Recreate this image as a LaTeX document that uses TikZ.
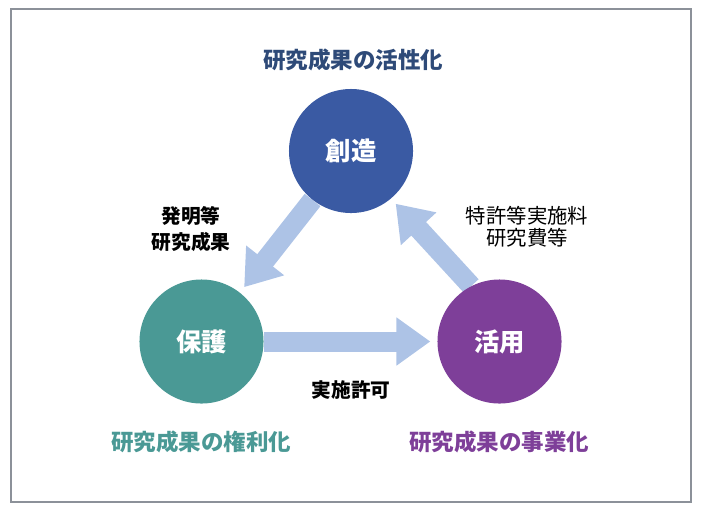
\documentclass[tikz,border=0pt]{standalone}
\usepackage{fontspec}
\setmainfont{Noto Sans CJK JP}
\usepackage{tikz}
\usetikzlibrary{arrows.meta,backgrounds}
\definecolor{createblue}{HTML}{3A5AA3}
\definecolor{protectteal}{HTML}{4A9995}
\definecolor{usepurple}{HTML}{7E3F99}
\definecolor{headnavy}{HTML}{2E4A78}
\definecolor{flowblue}{HTML}{ADC3E6}
\definecolor{framegray}{HTML}{8C9199}

\begin{document}
\begin{tikzpicture}[x=0.025cm, y=-0.025cm,
		stage/.style={circle, minimum size=3.1cm, inner sep=0pt, text=white, font=\fontsize{18}{20}\selectfont\bfseries},
		flow/.style={draw=flowblue, line width=0.5cm, -{Triangle[length=0.85cm, width=1.15cm]}, shorten >=0.17cm},
		heading/.style={font=\fontsize{16}{18}\selectfont\bfseries},
		note/.style={align=center, text=black}]
		%%%%% START %%%%%
		\useasboundingbox (0, 0) rectangle (702, 515);
		\draw[framegray, line width=1.2pt] (11, 9) rectangle (691, 502);
		
		\node[stage, fill=createblue] (create) at (351, 151) {創造};
		\node[stage, fill=protectteal] (protect) at (201.5, 341.5) {保護};
		\node[stage, fill=usepurple] (use) at (499.5, 341.5) {活用};
		
		\begin{scope}[on background layer]
		\draw[flow] (create) -- (protect);
		\draw[flow] (protect) -- (use);
		\draw[flow] (use.117) -- (create.310);
		\end{scope}
		
		\node[heading, text=headnavy] (active) at (353, 60) {研究成果の活性化};
		\node[heading, text=protectteal] (rights) at (201, 442) {研究成果の権利化};
		\node[heading, text=usepurple] (business) at (499, 442) {研究成果の事業化};
		
		\node[note, font=\fontsize{14}{19}\selectfont\bfseries] (results) at (191, 229) {発明等\\研究成果};
		\node[note, font=\fontsize{14.5}{15.5}\selectfont] (fees) at (527, 227) {特許等実施料\\研究費等};
		\node[note, font=\fontsize{14}{16}\selectfont\bfseries] (license) at (351, 390) {実施許可};
		%%%%% END %%%%%
	\end{tikzpicture}
\end{document}
